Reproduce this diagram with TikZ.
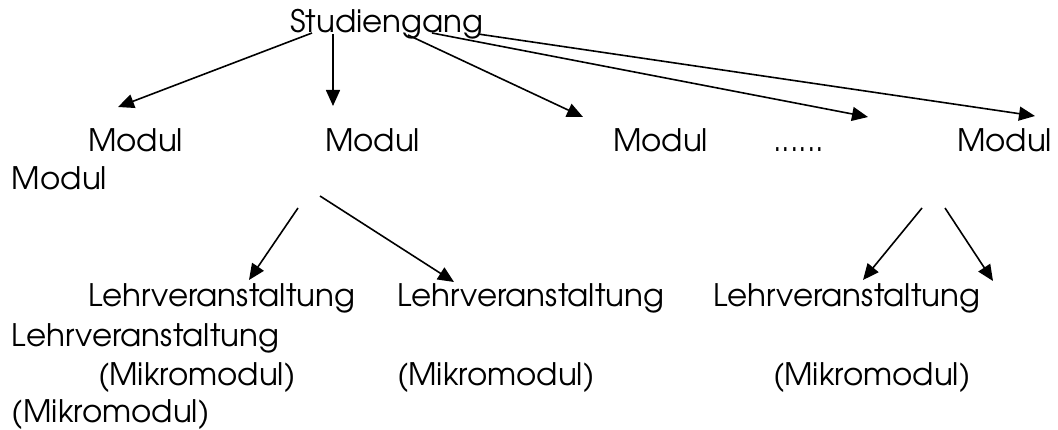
\documentclass[tikz,border=0pt]{standalone}
\usepackage{fontspec}
\setmainfont{texgyreadventor-regular.otf}
\usetikzlibrary{arrows.meta}
\begin{document}
\begin{tikzpicture}[x=1pt,y=-1pt,
  lbl/.style={anchor=base west,inner sep=0pt,outer sep=0pt,font=\fontsize{31}{37}\selectfont},
  conn/.style={line width=1.6pt,-{Triangle[length=16pt,width=14pt]}}]
\useasboundingbox (0,0) rectangle (1058,430);
% texts
\node[lbl] (stud) at (290,33) {Studiengang};
\node[lbl] (m1) at (88,152) {Modul};
\node[lbl] (m2) at (325,152) {Modul};
\node[lbl] (m3) at (613,152) {Modul};
\node[lbl] (dots) at (773,152) {......};
\node[lbl] (m5) at (957,152) {Modul};
\node[lbl] (m0) at (12,190) {Modul};
\node[lbl] (l1) at (88,307) {Lehrveranstaltung};
\node[lbl] (l2) at (397,307) {Lehrveranstaltung};
\node[lbl] (l3) at (713,307) {Lehrveranstaltung};
\node[lbl] (l0) at (12,347) {Lehrveranstaltung};
\node[lbl] (k1) at (98,385) {(Mikromodul)};
\node[lbl] (k2) at (397,385) {(Mikromodul)};
\node[lbl] (k3) at (773,385) {(Mikromodul)};
\node[lbl] (k0) at (12,422) {(Mikromodul)};
% connector end points
\coordinate (sa1) at (312,33);  \coordinate (ta1) at (118,107);
\coordinate (sa2) at (333,34);  \coordinate (ta2) at (333,106);
\coordinate (sa3) at (408,35);  \coordinate (ta3) at (583,117);
\coordinate (sa4) at (432,33);  \coordinate (ta4) at (868,117);
\coordinate (sa5) at (478,34);  \coordinate (ta5) at (1035,116);
\coordinate (sb1) at (298,208); \coordinate (tb1) at (249,280);
\coordinate (sb2) at (320,196); \coordinate (tb2) at (454,282);
\coordinate (sc1) at (922,208); \coordinate (tc1) at (863,280);
\coordinate (sc2) at (945,208); \coordinate (tc2) at (993,281);
\draw[conn] (sa1) -- (ta1);
\draw[conn] (sa2) -- (ta2);
\draw[conn] (sa3) -- (ta3);
\draw[conn] (sa4) -- (ta4);
\draw[conn] (sa5) -- (ta5);
\draw[conn] (sb1) -- (tb1);
\draw[conn] (sb2) -- (tb2);
\draw[conn] (sc1) -- (tc1);
\draw[conn] (sc2) -- (tc2);
\end{tikzpicture}
\end{document}
